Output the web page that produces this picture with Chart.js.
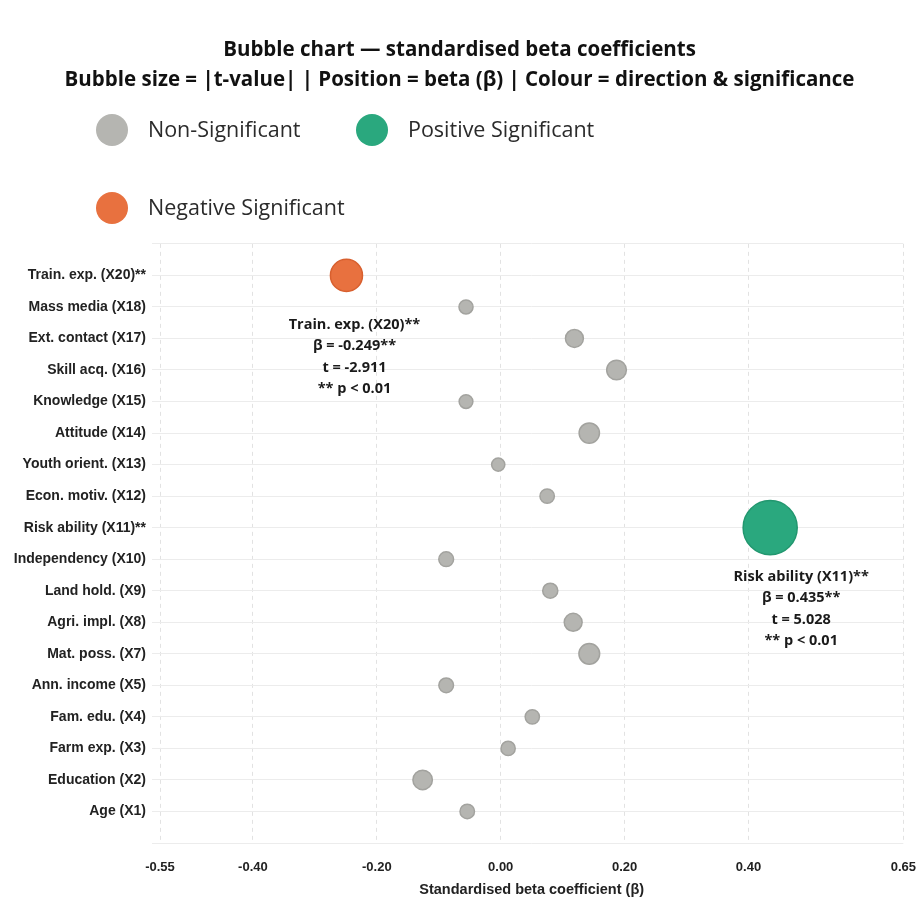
<!DOCTYPE html>
<html>
<head>
<meta charset="utf-8">
<title>Bubble chart - standardised beta coefficients</title>
<script src="https://cdn.jsdelivr.net/npm/chart.js@4.4.1/dist/chart.umd.min.js"></script>
<style>
  html, body { margin: 0; padding: 0; background: #fff; }
  #wrap { position: relative; width: 919px; height: 899px; }
</style>
</head>
<body>
<div id="wrap"><canvas id="chartBubble"></canvas></div>
<script>
// Variables, from bottom (X1) to top (X20)
const variables = [
  "Age (X1)", "Education (X2)", "Farm exp. (X3)", "Fam. edu. (X4)",
  "Ann. income (X5)", "Mat. poss. (X7)", "Agri. impl. (X8)", "Land hold. (X9)",
  "Independency (X10)", "Risk ability (X11)**", "Econ. motiv. (X12)", "Youth orient. (X13)",
  "Attitude (X14)", "Knowledge (X15)", "Skill acq. (X16)", "Ext. contact (X17)",
  "Mass media (X18)", "Train. exp. (X20)**"
];
// standardised beta (β)
const betas = [
  -0.054, -0.126, 0.012, 0.051,
  -0.088, 0.143, 0.117, 0.080,
  -0.088, 0.435, 0.075, -0.004,
  0.143, -0.056, 0.187, 0.119,
  -0.056, -0.249
];
// t-values (bubble size = |t|)
const tValues = [
  -1.22, -1.70, 1.19, 1.20,
  -1.24, 1.82, 1.55, 1.28,
  -1.25, 5.028, 1.21, -1.10,
  1.78, -1.15, 1.72, 1.55,
  -1.18, -2.911
];
// significance marks ("" = not significant)
const sigMarks = [
  "", "", "", "",
  "", "", "", "",
  "", "**", "", "",
  "", "", "", "",
  "", "**"
];
const xTicks = [-0.55, -0.40, -0.20, 0.00, 0.20, 0.40, 0.65];
const groupNames = ["Non-Significant", "Positive Significant", "Negative Significant"];

// colours of the groups
const fills = ["#b5b5b1", "#2aa87e", "#e8713f"];
const borders = ["#a3a39f", "#22976f", "#d8602f"];

// bubble radius in px from |t|
function radioDesdeT(t) {
  return 0.9 + 5.2 * Math.abs(t);
}

function grupo(i) {
  if (sigMarks[i] === "") return 0;
  return betas[i] > 0 ? 1 : 2;
}

const datasets = groupNames.map(function (name, g) {
  const pts = [];
  betas.forEach(function (b, i) {
    if (grupo(i) === g) pts.push({ x: b, y: i, r: radioDesdeT(tValues[i]) });
  });
  return {
    label: name,
    data: pts,
    backgroundColor: fills[g],
    borderColor: borders[g],
    borderWidth: 1.5,
    hoverRadius: 0
  };
});

// legend drawn by hand (two rows, large dots)
const leyendaPlugin = {
  id: "leyendaBurbujas",
  afterDraw(chart, args, opts) {
    const ctx = chart.ctx;
    ctx.save();
    chart.data.datasets.forEach(function (ds, i) {
      const p = opts.positions[i];
      ctx.beginPath();
      ctx.arc(p.x, p.y, 16, 0, Math.PI * 2);
      ctx.fillStyle = ds.backgroundColor;
      ctx.fill();
      ctx.fillStyle = "#2b2b2b";
      ctx.font = "21.5px 'Open Sans'";
      ctx.textAlign = "left";
      ctx.textBaseline = "middle";
      ctx.fillText(ds.label, p.x + 36, p.y + 1);
    });
    ctx.restore();
  }
};

// text notes under the significant bubbles
const notasPlugin = {
  id: "notasSignificativas",
  afterDatasetsDraw(chart, args, opts) {
    const ctx = chart.ctx;
    const sx = chart.scales.x, sy = chart.scales.y;
    ctx.save();
    ctx.font = "bold 14.5px 'Open Sans'";
    ctx.fillStyle = "#1a1a1a";
    ctx.textAlign = "center";
    ctx.textBaseline = "middle";
    sigMarks.forEach(function (m, i) {
      if (m === "") return;
      const off = opts.offsets[i] || { dx: 0, dy: 49 };
      const cx = sx.getPixelForValue(betas[i]) + off.dx;
      const cy = sy.getPixelForValue(i) + off.dy;
      const lineas = [
        variables[i],
        "\u03b2 = " + betas[i].toFixed(3) + m,
        "t = " + tValues[i].toFixed(3),
        m + " p < 0.01"
      ];
      lineas.forEach(function (txt, k) {
        ctx.fillText(txt, cx, cy + k * 21.5);
      });
    });
    ctx.restore();
  }
};

const config = {
  type: "bubble",
  data: { datasets: datasets },
  options: {
    responsive: true,
    maintainAspectRatio: false,
    animation: false,
    layout: { autoPadding: false, padding: { left: 0, right: 0, top: 0, bottom: 0 } },
    plugins: {
      legend: { display: false },
      tooltip: { enabled: false },
      title: {
        display: true,
        text: [
          "Bubble chart \u2014 standardised beta coefficients",
          "Bubble size = |t-value| | Position = beta (\u03b2) | Colour = direction & significance"
        ],
        color: "#111",
        font: { family: "'Open Sans'", size: 20.5, weight: "bold", lineHeight: 1.46 },
        padding: { top: 35, bottom: 149 }
      },
      leyendaBurbujas: {
        positions: [{ x: 112, y: 130 }, { x: 372, y: 130 }, { x: 112, y: 208 }]
      },
      notasSignificativas: {
        offsets: { 9: { dx: 31, dy: 49 }, 17: { dx: 8, dy: 49 } }
      }
    },
    scales: {
      x: {
        type: "linear",
        min: -0.55,
        max: 0.65,
        afterBuildTicks: function (scale) {
          scale.ticks = xTicks.map(function (v) { return { value: v }; });
        },
        afterFit: function (scale) { scale.height = 56; },
        ticks: {
          autoSkip: false,
          maxRotation: 0,
          padding: 3,
          color: "#222",
          font: { family: "'Liberation Sans'", size: 13, weight: "bold" },
          callback: function (v) { return Number(v).toFixed(2); }
        },
        grid: { color: "#e2e2e2", drawTicks: true, tickLength: 14, tickColor: "rgba(0,0,0,0)" },
        border: { display: false, dash: [4, 4] },
        title: {
          display: true,
          text: "Standardised beta coefficient (\u03b2)",
          color: "#222",
          font: { family: "'Liberation Sans'", size: 14.5, weight: "bold" },
          padding: { top: 4, bottom: 0 }
        }
      },
      y: {
        type: "linear",
        min: -1,
        max: 18,
        afterBuildTicks: function (scale) {
          const t = [];
          for (let v = -1; v <= 18; v++) t.push({ value: v });
          scale.ticks = t;
        },
        afterFit: function (scale) { scale.width = 160; },
        ticks: {
          autoSkip: false,
          padding: 6,
          color: "#222",
          font: { family: "'Liberation Sans'", size: 14, weight: "bold" },
          callback: function (v) { return variables[v] || ""; }
        },
        grid: { color: "#ececec", tickLength: 8, tickColor: "#ececec" },
        border: { display: false }
      }
    }
  },
  plugins: [leyendaPlugin, notasPlugin]
};

var chartBubble = new Chart(document.getElementById("chartBubble"), config);
</script>
</body>
</html>
